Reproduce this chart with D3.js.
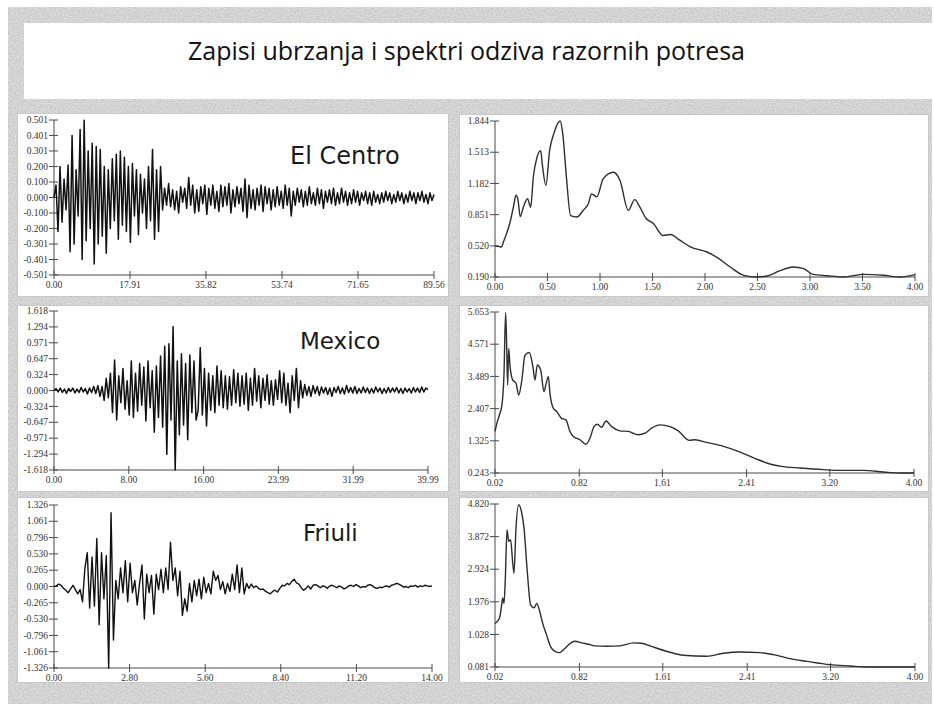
<!DOCTYPE html>
<html>
<head>
<meta charset="utf-8">
<script src="https://cdn.jsdelivr.net/npm/d3@7"></script>
<style>
  html, body { margin: 0; padding: 0; background: #ffffff; }
  svg { display: block; }
</style>
</head>
<body>
<script>
// ---------------- DATA ----------------
const titleText = "Zapisi ubrzanja i spektri odziva razornih potresa";

// Accelerograms (values at uniform time steps over the record duration)
const elCentroDuration = 89.56;
const elCentroAcc = [
  0.00, 0.08, -0.22, 0.20, -0.16, 0.12, -0.08, 0.21, -0.35, 0.40,
  -0.30, 0.18, -0.12, 0.44, -0.40, 0.50, -0.28, 0.30, -0.20, 0.35,
  -0.43, 0.33, -0.30, 0.31, -0.25, 0.20, -0.36, 0.18, -0.20, 0.25,
  -0.15, 0.28, -0.27, 0.30, -0.18, 0.26, -0.22, 0.20, -0.29, 0.22,
  -0.12, 0.18, -0.24, 0.15, -0.10, 0.12, -0.20, 0.20, -0.15, 0.31,
  -0.27, 0.18, -0.22, 0.20, -0.08, 0.06, -0.05, 0.09, -0.06, 0.05,
  -0.08, 0.04, -0.10, 0.07, -0.03, 0.06, -0.07, 0.13, -0.05, 0.08,
  -0.10, 0.05, -0.09, 0.07, -0.04, 0.08, -0.11, 0.06, -0.05, 0.08,
  -0.07, 0.04, -0.09, 0.08, -0.06, 0.07, -0.05, 0.09, -0.10, 0.05,
  -0.06, 0.07, -0.04, 0.06, -0.09, 0.12, -0.13, 0.08, -0.07, 0.05,
  -0.08, 0.06, -0.05, 0.08, -0.09, 0.07, -0.04, 0.06, -0.08, 0.05,
  -0.06, 0.07, -0.05, 0.04, -0.07, 0.08, -0.05, 0.06, -0.12, 0.04,
  -0.05, 0.06, -0.03, 0.05, -0.06, 0.04, -0.05, 0.07, -0.04, 0.03,
  -0.05, 0.06, -0.04, 0.05, -0.07, 0.04, -0.03, 0.05, -0.04, 0.06,
  -0.05, 0.03, -0.04, 0.06, -0.03, 0.04, -0.05, 0.03, -0.04, 0.05,
  -0.03, 0.04, -0.05, 0.03, -0.02, 0.04, -0.04, 0.03, -0.05, 0.04,
  -0.03, 0.02, -0.04, 0.03, -0.03, 0.04, -0.02, 0.03, -0.04, 0.02,
  -0.03, 0.04, -0.02, 0.03, -0.04, 0.02, -0.03, 0.04, -0.02, 0.03,
  -0.04, 0.03, -0.02, 0.04, -0.03, 0.02, -0.04, 0.03, -0.02, 0.02
];

const mexicoDuration = 39.99;
const mexicoAcc = [
  0.00, 0.04, -0.03, 0.05, -0.04, 0.03, -0.06, 0.04, -0.02, 0.05,
  -0.05, 0.03, -0.04, 0.06, -0.03, 0.04, -0.07, 0.05, -0.04, 0.08,
  -0.06, 0.10, -0.12, 0.08, -0.20, 0.25, -0.15, 0.35, -0.45, 0.62,
  -0.60, 0.30, -0.25, 0.45, -0.38, 0.20, -0.50, 0.60, -0.55, 0.35,
  -0.42, 0.55, -0.30, 0.48, -0.62, 0.60, -0.35, 0.40, -0.85, 0.50,
  -0.55, 0.70, -0.75, 0.90, -1.30, 0.95, -0.60, 1.30, -1.618, 0.60,
  -0.90, 0.75, -0.70, 0.55, -1.00, 0.72, -0.45, 0.60, -0.60, -0.40,
  0.87, -0.50, 0.45, -0.72, 0.35, -0.40, 0.30, -0.45, 0.50, -0.30,
  0.40, -0.35, 0.30, -0.38, 0.28, -0.30, 0.42, -0.25, 0.35, -0.32,
  0.30, -0.28, 0.35, -0.40, 0.25, -0.30, 0.45, -0.22, 0.30, -0.35,
  0.25, -0.20, 0.32, -0.28, 0.20, -0.30, 0.22, -0.18, 0.40, -0.25,
  0.35, -0.30, 0.15, -0.45, 0.30, -0.20, 0.45, -0.35, 0.20, -0.15,
  0.12, -0.10, 0.08, -0.12, 0.10, -0.06, 0.08, -0.10, 0.07, -0.05,
  0.06, -0.08, 0.05, -0.12, 0.06, -0.04, 0.08, -0.06, 0.05, -0.07,
  0.10, -0.04, 0.06, -0.05, 0.08, -0.06, 0.04, -0.05, 0.07, -0.04,
  0.05, -0.06, 0.04, -0.05, 0.07, -0.03, 0.05, -0.06, 0.04, -0.05,
  0.06, -0.04, 0.05, -0.03, 0.06, -0.05, 0.04, -0.06, 0.05, -0.03,
  0.04, -0.05, 0.06, -0.03, 0.05, -0.04, 0.07, -0.03, 0.05, 0.02
];

const friuliDuration = 14.00;
const friuliAcc = [
  0.00, 0.01, 0.04, 0.02, -0.03, -0.06, -0.10, -0.04, 0.02, -0.05, -0.12, -0.05,
  -0.25, 0.30, 0.55, -0.35, 0.48, -0.32, 0.78, -0.62, 0.55, -0.20, 0.50, -1.326, 1.20, -0.87, 0.10, -0.20,
  0.30, -0.10, 0.42, -0.25, 0.38, -0.10, 0.10, -0.30, 0.05, 0.35,
  -0.53, 0.20, -0.10, 0.18, -0.45, 0.20, -0.05, 0.28, -0.10, 0.30,
  -0.05, 0.72, 0.10, 0.30, -0.15, 0.25, -0.47, -0.20, -0.40, 0.05,
  -0.25, 0.10, -0.15, 0.12, -0.20, 0.15, -0.10, 0.05, -0.12, 0.25,
  0.10, 0.18, -0.05, 0.08, -0.12, 0.05, -0.08, 0.20, -0.05, 0.35,
  -0.10, 0.30, -0.12, 0.05, -0.03, 0.04, -0.02, 0.01, -0.03, -0.05,
  -0.04, -0.08, -0.10, -0.12, -0.08, -0.06, -0.09, -0.03, 0.02, 0.01,
  0.05, 0.03, 0.08, 0.12, 0.06, 0.04, -0.02, -0.06, -0.03, 0.01,
  -0.04, 0.02, 0.03, 0.01, -0.02, 0.01, 0.00, -0.03, 0.01, 0.02,
  0.00, -0.02, 0.01, -0.01, -0.04, -0.02, 0.01, 0.02, 0.00, 0.03,
  0.01, -0.02, 0.00, -0.01, 0.02, 0.03, 0.01, -0.02, -0.03, -0.01,
  -0.02, 0.00, 0.01, -0.01, 0.02, 0.03, 0.05, 0.04, 0.02, -0.01,
  0.00, -0.02, 0.01, 0.00, 0.02, -0.01, 0.01, 0.00, 0.02, 0.01, 0.00, 0.01
];

// Response spectra (period, value)
const elCentroSpecT = [0.00,0.063,0.08,0.11,0.14,0.175,0.20,0.22,0.24,0.27,0.31,0.34,0.365,0.40,0.435,0.45,0.485,0.52,0.56,0.62,0.645,0.68,0.72,0.78,0.84,0.89,0.92,0.97,1.03,1.127,1.19,1.27,1.33,1.38,1.44,1.51,1.60,1.67,1.76,1.86,2.02,2.11,2.24,2.37,2.49,2.59,2.71,2.84,2.94,3.03,3.16,3.32,3.51,3.70,3.86,4.00];
const elCentroSpecV = [0.52,0.508,0.56,0.65,0.755,0.93,1.056,1.00,0.83,0.93,1.02,0.93,1.25,1.46,1.53,1.39,1.16,1.53,1.71,1.844,1.71,1.25,0.84,0.826,0.897,0.97,1.07,1.04,1.23,1.30,1.215,0.897,1.01,0.93,0.81,0.755,0.63,0.64,0.58,0.51,0.455,0.40,0.296,0.208,0.19,0.20,0.254,0.296,0.278,0.218,0.204,0.19,0.218,0.208,0.19,0.215];

const mexicoSpecT = [0.02,0.042,0.067,0.086,0.105,0.121,0.13,0.14,0.15,0.162,0.188,0.22,0.245,0.273,0.305,0.346,0.38,0.40,0.422,0.454,0.485,0.504,0.527,0.542,0.574,0.606,0.653,0.694,0.732,0.764,0.827,0.884,0.922,0.96,0.992,1.033,1.074,1.128,1.207,1.286,1.381,1.445,1.508,1.587,1.682,1.761,1.866,1.92,2.03,2.19,2.35,2.505,2.66,2.74,2.917,3.14,3.297,3.52,3.71,3.866,4.00];
const mexicoSpecV = [1.64,1.97,2.25,2.53,3.53,5.63,4.65,3.20,4.43,3.87,3.37,3.26,2.86,3.31,4.20,4.29,3.81,3.37,3.87,3.70,2.98,3.22,3.48,2.92,2.42,2.31,2.08,2.03,1.64,1.47,1.36,1.21,1.41,1.80,1.88,1.78,1.99,1.80,1.66,1.64,1.53,1.58,1.75,1.86,1.80,1.66,1.34,1.36,1.27,1.14,0.946,0.71,0.52,0.466,0.41,0.355,0.332,0.332,0.276,0.243,0.243];

const friuliSpecT = [0.02,0.061,0.083,0.093,0.105,0.118,0.134,0.15,0.168,0.187,0.20,0.219,0.244,0.27,0.295,0.326,0.358,0.39,0.415,0.44,0.472,0.51,0.548,0.589,0.63,0.674,0.73,0.778,0.841,0.905,0.968,1.078,1.204,1.33,1.41,1.489,1.647,1.805,2.026,2.184,2.34,2.53,2.657,2.815,2.973,3.194,3.384,3.542,3.73,4.00];
const friuliSpecV = [1.35,1.49,1.88,2.09,1.93,2.66,4.07,3.73,3.78,3.15,2.81,4.12,4.80,4.61,4.12,2.85,1.88,1.80,1.93,1.74,1.35,1.00,0.665,0.538,0.50,0.597,0.762,0.83,0.782,0.743,0.694,0.684,0.694,0.782,0.772,0.694,0.538,0.422,0.392,0.48,0.519,0.50,0.441,0.324,0.246,0.149,0.11,0.081,0.081,0.081];

// Tick labels
const elCentroAccXTicks = ["0.00","17.91","35.82","53.74","71.65","89.56"];
const elCentroAccYTicks = ["0.501","0.401","0.301","0.200","0.100","0.000","-0.100","-0.200","-0.301","-0.401","-0.501"];
const mexicoAccXTicks = ["0.00","8.00","16.00","23.99","31.99","39.99"];
const mexicoAccYTicks = ["1.618","1.294","0.971","0.647","0.324","0.000","-0.324","-0.647","-0.971","-1.294","-1.618"];
const friuliAccXTicks = ["0.00","2.80","5.60","8.40","11.20","14.00"];
const friuliAccYTicks = ["1.326","1.061","0.796","0.530","0.265","0.000","-0.265","-0.530","-0.796","-1.061","-1.326"];

const elCentroSpecXTicks = ["0.00","0.50","1.00","1.50","2.00","2.50","3.00","3.50","4.00"];
const elCentroSpecYTicks = ["1.844","1.513","1.182","0.851","0.520","0.190"];
const mexicoSpecXTicks = ["0.02","0.82","1.61","2.41","3.20","4.00"];
const mexicoSpecYTicks = ["5.653","4.571","3.489","2.407","1.325","0.243"];
const friuliSpecXTicks = ["0.02","0.82","1.61","2.41","3.20","4.00"];
const friuliSpecYTicks = ["4.820","3.872","2.924","1.976","1.028","0.081"];

const quakeNames = ["El Centro", "Mexico", "Friuli"];

// ---------------- DRAWING ----------------
const W = 934, H = 704;
const svg = d3.select("body").append("svg").attr("width", W).attr("height", H);

const defs = svg.append("defs");
const filt = defs.append("filter").attr("id", "tex")
  .attr("x", 0).attr("y", 0).attr("width", "100%").attr("height", "100%");
filt.append("feTurbulence").attr("type", "fractalNoise").attr("baseFrequency", 0.6)
  .attr("numOctaves", 2).attr("seed", 7).attr("result", "noise");
filt.append("feColorMatrix").attr("type", "matrix")
  .attr("values", "0 0 0 0 0  0 0 0 0 0  0 0 0 0 0  0.22 0 0 0 -0.07");

// background
svg.append("rect").attr("x", 0).attr("y", 0).attr("width", W).attr("height", H).attr("fill", "#ffffff");
svg.append("rect").attr("x", 8).attr("y", 7).attr("width", 924).attr("height", 697).attr("fill", "#dcdcdc");
svg.append("rect").attr("x", 8).attr("y", 7).attr("width", 924).attr("height", 697).attr("filter", "url(#tex)");

// title box
svg.append("rect").attr("x", 24).attr("y", 23).attr("width", 910).attr("height", 76).attr("fill", "#ffffff");
svg.append("text").attr("x", 188).attr("y", 60)
  .attr("font-family", "'Open Sans', 'Noto Sans', sans-serif").attr("font-size", 25)
  .attr("fill", "#111").attr("textLength", 557).attr("lengthAdjust", "spacingAndGlyphs")
  .text(titleText);

// panel boxes
const panelBoxes = [
  {x: 17, y: 113, w: 431, h: 183}, {x: 459, y: 114, w: 469, h: 182},
  {x: 17, y: 305, w: 431, h: 186}, {x: 459, y: 305, w: 469, h: 186},
  {x: 17, y: 497, w: 431, h: 185}, {x: 459, y: 497, w: 469, h: 185}
];
panelBoxes.forEach(b => {
  svg.append("rect").attr("x", b.x + 0.5).attr("y", b.y + 0.5).attr("width", b.w).attr("height", b.h)
    .attr("fill", "#ffffff").attr("stroke", "#c8c8c8").attr("stroke-width", 1);
});

function drawChart(cfg) {
  const g = svg.append("g");
  const x = d3.scaleLinear().domain(cfg.xDomain).range([cfg.x0, cfg.x1]);
  const y = d3.scaleLinear().domain(cfg.yDomain).range([cfg.y1, cfg.y0]);
  const axisColor = "#4a4a4a";
  const font = "'Liberation Serif', 'Times New Roman', serif";

  // axis lines
  g.append("line").attr("x1", cfg.x0).attr("x2", cfg.x0).attr("y1", cfg.y0).attr("y2", cfg.y1)
    .attr("stroke", axisColor).attr("stroke-width", 1);
  g.append("line").attr("x1", cfg.x0).attr("x2", cfg.x1).attr("y1", cfg.y1).attr("y2", cfg.y1)
    .attr("stroke", axisColor).attr("stroke-width", 1);

  // y ticks
  cfg.yTicks.forEach(t => {
    const yy = y(+t);
    g.append("line").attr("x1", cfg.x0 - 5).attr("x2", cfg.x0 + 4).attr("y1", yy).attr("y2", yy)
      .attr("stroke", axisColor).attr("stroke-width", 1);
    g.append("text").attr("x", cfg.x0 - 6).attr("y", yy).attr("dy", "0.33em")
      .attr("text-anchor", "end").attr("font-family", font).attr("font-size", 9.5)
      .attr("fill", "#333").text(t);
  });
  // x ticks
  cfg.xTicks.forEach(t => {
    const xx = x(+t);
    g.append("line").attr("x1", xx).attr("x2", xx).attr("y1", cfg.y1 - 4).attr("y2", cfg.y1 + 4)
      .attr("stroke", axisColor).attr("stroke-width", 1);
    g.append("text").attr("x", xx).attr("y", cfg.y1 + 13)
      .attr("text-anchor", "middle").attr("font-family", font).attr("font-size", 9.5)
      .attr("fill", "#333").text(t);
  });

  const line = d3.line().x(d => x(d[0])).y(d => y(d[1])).curve(cfg.curve || d3.curveLinear);
  g.append("path").datum(cfg.points).attr("d", line)
    .attr("fill", "none").attr("stroke", cfg.stroke).attr("stroke-width", cfg.strokeWidth)
    .attr("stroke-linejoin", "round");

  if (cfg.label) {
    g.append("text").attr("x", cfg.labelX).attr("y", cfg.labelY)
      .attr("font-family", "'DejaVu Sans', Verdana, sans-serif").attr("font-size", cfg.labelSize)
      .attr("fill", "#1a1a1a").text(cfg.label);
  }
}

function accPoints(values, duration) {
  const t = d3.scaleLinear().domain([0, values.length - 1]).range([0, duration]);
  return values.map((v, i) => [t(i), v]);
}
function specPoints(ts, vs) { return ts.map((t, i) => [t, vs[i]]); }

// Left: accelerograms
drawChart({
  x0: 54, x1: 434, y0: 120, y1: 275,
  xDomain: [0, elCentroDuration], yDomain: [-0.501, 0.501],
  xTicks: elCentroAccXTicks, yTicks: elCentroAccYTicks,
  points: accPoints(elCentroAcc, elCentroDuration), stroke: "#111", strokeWidth: 1.5,
  label: quakeNames[0], labelX: 290, labelY: 164, labelSize: 24
});
drawChart({
  x0: 54, x1: 428, y0: 311, y1: 470,
  xDomain: [0, mexicoDuration], yDomain: [-1.618, 1.618],
  xTicks: mexicoAccXTicks, yTicks: mexicoAccYTicks,
  points: accPoints(mexicoAcc, mexicoDuration), stroke: "#111", strokeWidth: 1.5,
  label: quakeNames[1], labelX: 300, labelY: 349, labelSize: 23
});
drawChart({
  x0: 54, x1: 432, y0: 505, y1: 668,
  xDomain: [0, friuliDuration], yDomain: [-1.326, 1.326],
  xTicks: friuliAccXTicks, yTicks: friuliAccYTicks,
  points: accPoints(friuliAcc, friuliDuration), stroke: "#111", strokeWidth: 1.4,
  label: quakeNames[2], labelX: 303, labelY: 541, labelSize: 23
});

// Right: response spectra
drawChart({
  x0: 495, x1: 915, y0: 121, y1: 277,
  xDomain: [0, 4], yDomain: [0.190, 1.844],
  xTicks: elCentroSpecXTicks, yTicks: elCentroSpecYTicks,
  points: specPoints(elCentroSpecT, elCentroSpecV), stroke: "#2e2e2e", strokeWidth: 1.4,
  curve: d3.curveMonotoneX
});
drawChart({
  x0: 495, x1: 914, y0: 312, y1: 473,
  xDomain: [0.02, 4], yDomain: [0.243, 5.653],
  xTicks: mexicoSpecXTicks, yTicks: mexicoSpecYTicks,
  points: specPoints(mexicoSpecT, mexicoSpecV), stroke: "#2e2e2e", strokeWidth: 1.4,
  curve: d3.curveMonotoneX
});
drawChart({
  x0: 495, x1: 915, y0: 504, y1: 667,
  xDomain: [0.02, 4], yDomain: [0.081, 4.820],
  xTicks: friuliSpecXTicks, yTicks: friuliSpecYTicks,
  points: specPoints(friuliSpecT, friuliSpecV), stroke: "#2e2e2e", strokeWidth: 1.4,
  curve: d3.curveMonotoneX
});
</script>
</body>
</html>
